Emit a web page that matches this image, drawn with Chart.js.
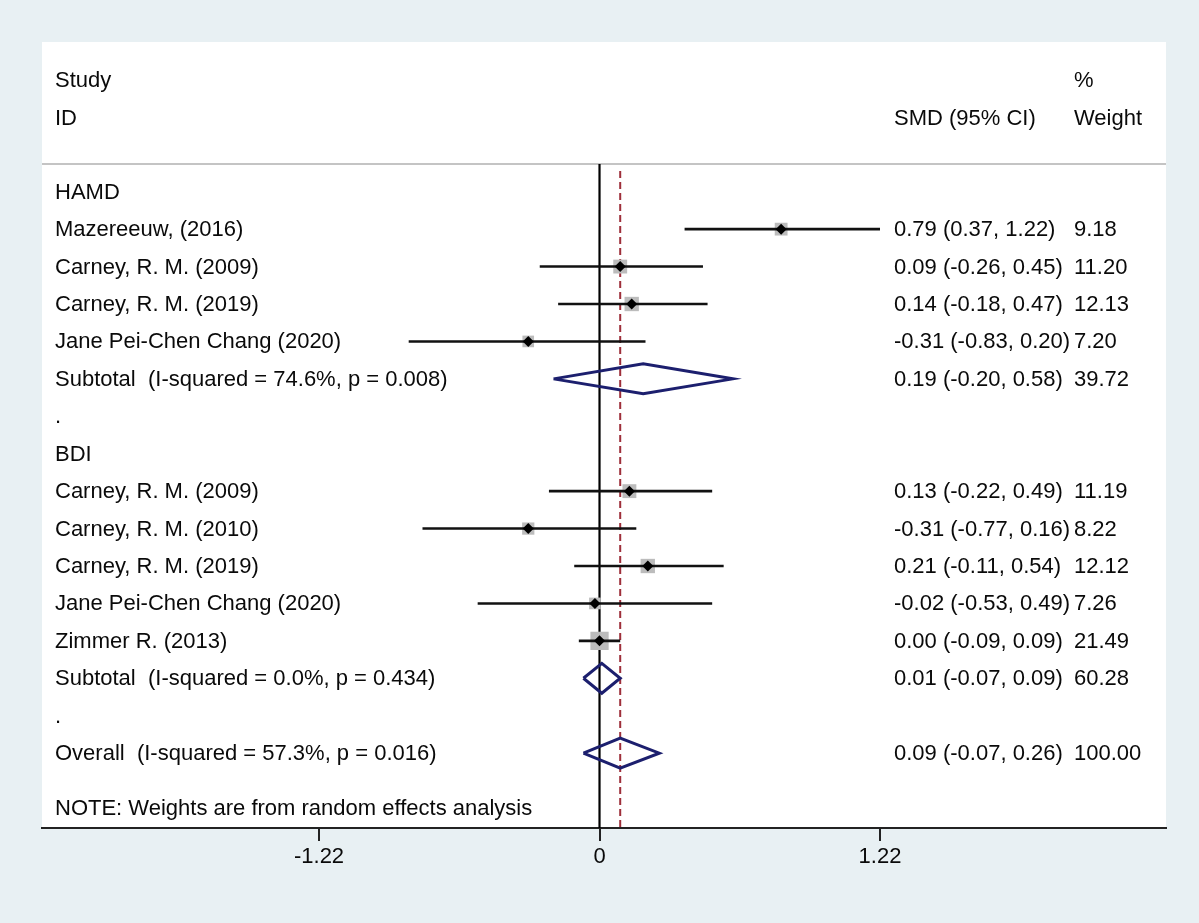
<!DOCTYPE html>
<html>
<head>
<meta charset="utf-8">
<script src="https://cdn.jsdelivr.net/npm/chart.js@4.4.0/dist/chart.umd.min.js"></script>
<style>
  html, body { margin: 0; padding: 0; background: #e8f0f3; }
  canvas { display: block; }
</style>
</head>
<body>
<canvas id="forest" width="1199" height="923"></canvas>
<script>
// data
const groups = ["HAMD", "BDI"];
const studyNames = [
  "Mazereeuw, (2016)",
  "Carney, R. M. (2009)",
  "Carney, R. M. (2019)",
  "Jane Pei-Chen Chang (2020)",
  "Carney, R. M. (2009)",
  "Carney, R. M. (2010)",
  "Carney, R. M. (2019)",
  "Jane Pei-Chen Chang (2020)",
  "Zimmer R. (2013)",
];
const studyGroup = [0, 0, 0, 0, 1, 1, 1, 1, 1];
const smd = [0.79, 0.09, 0.14, -0.31, 0.13, -0.31, 0.21, -0.02, 0.0];
const lower = [0.37, -0.26, -0.18, -0.83, -0.22, -0.77, -0.11, -0.53, -0.09];
const upper = [1.22, 0.45, 0.47, 0.2, 0.49, 0.16, 0.54, 0.49, 0.09];
const weight = [9.18, 11.2, 12.13, 7.2, 11.19, 8.22, 12.12, 7.26, 21.49];

const subtotalLabels = [
  "Subtotal  (I-squared = 74.6%, p = 0.008)",
  "Subtotal  (I-squared = 0.0%, p = 0.434)",
];
const subtotalSmd = [0.19, 0.01];
const subtotalLower = [-0.2, -0.07];
const subtotalUpper = [0.58, 0.09];
const subtotalWeight = [39.72, 60.28];

const overallLabel = "Overall  (I-squared = 57.3%, p = 0.016)";
const overallSmd = [0.09];
const overallLower = [-0.07];
const overallUpper = [0.26];
const overallWeight = [100.0];

const noteText = "NOTE: Weights are from random effects analysis";
const xTicks = [-1.22, 0, 1.22];

// work out which row each line of the table sits on
const rows = [];
const studyRow = [];
const subtotalRow = [];
let r = 0;
groups.forEach((g, gi) => {
  rows.push({ y: r++, text: g });
  studyNames.forEach((name, i) => {
    if (studyGroup[i] !== gi) return;
    studyRow[i] = r;
    rows.push({ y: r++, text: name, est: smd[i], lo: lower[i], hi: upper[i], w: weight[i] });
  });
  subtotalRow[gi] = r;
  rows.push({ y: r++, text: subtotalLabels[gi], est: subtotalSmd[gi], lo: subtotalLower[gi], hi: subtotalUpper[gi], w: subtotalWeight[gi] });
  rows.push({ y: r++, text: "." });
});
const overallRow = r;
rows.push({ y: r, text: overallLabel, est: overallSmd[0], lo: overallLower[0], hi: overallUpper[0], w: overallWeight[0] });
const noteRow = r + 1.5;

const fmt = (v) => v.toFixed(2);
const FONT = '22px "Liberation Sans", Arial, sans-serif';
const TEXT = "#0a0a0a";

function diamond(est, lo, hi, y) {
  const h = 0.4;
  return [
    { x: lo, y: y },
    { x: est, y: y - h },
    { x: hi, y: y },
    { x: est, y: y + h },
    { x: lo, y: y },
  ];
}

const datasets = [];

// weight boxes
datasets.push({
  data: smd.map((v, i) => ({ x: v, y: studyRow[i] })),
  pointStyle: "rect",
  pointRadius: weight.map((w) => (2.5 + 3.4 * Math.sqrt(w)) / Math.SQRT2),
  backgroundColor: "#bcbcbc",
  borderWidth: 0,
  order: 3,
});

// confidence intervals
smd.forEach((v, i) => {
  datasets.push({
    data: [
      { x: lower[i], y: studyRow[i] },
      { x: upper[i], y: studyRow[i] },
    ],
    showLine: true,
    borderColor: "#111",
    borderWidth: 2.6,
    pointRadius: 0,
    order: 2,
  });
});

// point estimates
datasets.push({
  data: smd.map((v, i) => ({ x: v, y: studyRow[i] })),
  pointStyle: "rectRot",
  pointRadius: 5.5,
  backgroundColor: "#000",
  borderWidth: 0,
  order: 1,
});

// pooled diamonds
subtotalSmd.forEach((v, gi) => {
  datasets.push({
    data: diamond(v, subtotalLower[gi], subtotalUpper[gi], subtotalRow[gi]),
    showLine: true,
    fill: false,
    borderColor: "#1c1f6e",
    borderWidth: 3,
    pointRadius: 0,
    order: 1,
  });
});
datasets.push({
  data: diamond(overallSmd[0], overallLower[0], overallUpper[0], overallRow),
  showLine: true,
  fill: false,
  borderColor: "#1c1f6e",
  borderWidth: 3,
  pointRadius: 0,
  order: 1,
});

const forestPlugin = {
  id: "forest",
  beforeDraw(chart) {
    const { ctx, chartArea } = chart;
    ctx.save();
    ctx.fillStyle = "#e8f0f3";
    ctx.fillRect(0, 0, chart.width, chart.height);
    ctx.fillStyle = "#fff";
    ctx.fillRect(chartArea.left, chartArea.top, chartArea.right - chartArea.left, chartArea.bottom - chartArea.top);
    ctx.restore();
  },
  beforeDatasetsDraw(chart) {
    const { ctx, chartArea, scales } = chart;
    const headY = scales.y.getPixelForValue(-0.74);
    ctx.save();
    // header rule
    ctx.strokeStyle = "#c4c4c4";
    ctx.lineWidth = 2;
    ctx.beginPath();
    ctx.moveTo(chartArea.left, headY);
    ctx.lineTo(chartArea.right, headY);
    ctx.stroke();
    // line of no effect
    const x0 = scales.x.getPixelForValue(0);
    ctx.strokeStyle = "#000";
    ctx.lineWidth = 2.2;
    ctx.beginPath();
    ctx.moveTo(x0, headY);
    ctx.lineTo(x0, chartArea.bottom);
    ctx.stroke();
    // overall estimate
    const xo = scales.x.getPixelForValue(overallSmd[0]);
    ctx.strokeStyle = "#9e2f3a";
    ctx.lineWidth = 2;
    ctx.setLineDash([7, 4]);
    ctx.beginPath();
    ctx.moveTo(xo, headY + 7);
    ctx.lineTo(xo, chartArea.bottom);
    ctx.stroke();
    ctx.restore();
  },
  afterDatasetsDraw(chart) {
    const { ctx, scales } = chart;
    const y = (v) => scales.y.getPixelForValue(v);
    ctx.save();
    ctx.font = FONT;
    ctx.fillStyle = TEXT;
    ctx.textBaseline = "middle";
    ctx.textAlign = "left";
    ctx.fillText("Study", 55, y(-3) + 2);
    ctx.fillText("ID", 55, y(-2) + 2);
    ctx.fillText("SMD (95% CI)", 894, y(-2) + 2);
    ctx.fillText("%", 1074, y(-3) + 2);
    ctx.fillText("Weight", 1074, y(-2) + 2);
    rows.forEach((row) => {
      ctx.fillText(row.text, 55, y(row.y) + 1);
      if (row.est !== undefined) {
        ctx.fillText(fmt(row.est) + " (" + fmt(row.lo) + ", " + fmt(row.hi) + ")", 894, y(row.y) + 1);
        ctx.fillText(fmt(row.w), 1074, y(row.y) + 1);
      }
    });
    ctx.fillText(noteText, 55, y(noteRow));
    ctx.restore();
  },
};

new Chart(document.getElementById("forest"), {
  type: "scatter",
  data: { datasets },
  options: {
    responsive: false,
    devicePixelRatio: 1,
    animation: false,
    layout: { padding: { left: 42, right: 33, top: 42, bottom: 0 } },
    plugins: { legend: { display: false }, tooltip: { enabled: false } },
    scales: {
      x: {
        type: "linear",
        min: -2.425,
        max: 2.464,
        afterBuildTicks: (scale) => {
          scale.ticks = xTicks.map((v) => ({ value: v }));
        },
        afterFit: (scale) => {
          scale.height = 95;
        },
        ticks: {
          font: { family: '"Liberation Sans", Arial, sans-serif', size: 22 },
          color: TEXT,
          padding: 3,
          maxRotation: 0,
          callback: (v) => (v === 0 ? "0" : fmt(v)),
        },
        grid: { drawOnChartArea: false, drawTicks: true, tickLength: 13, color: "#222", lineWidth: 2 },
        border: { display: true, color: "#222", width: 2 },
      },
      y: {
        type: "linear",
        display: false,
        reverse: true,
        min: -4,
        max: noteRow + 0.5,
      },
    },
  },
  plugins: [forestPlugin],
});
</script>
</body>
</html>
